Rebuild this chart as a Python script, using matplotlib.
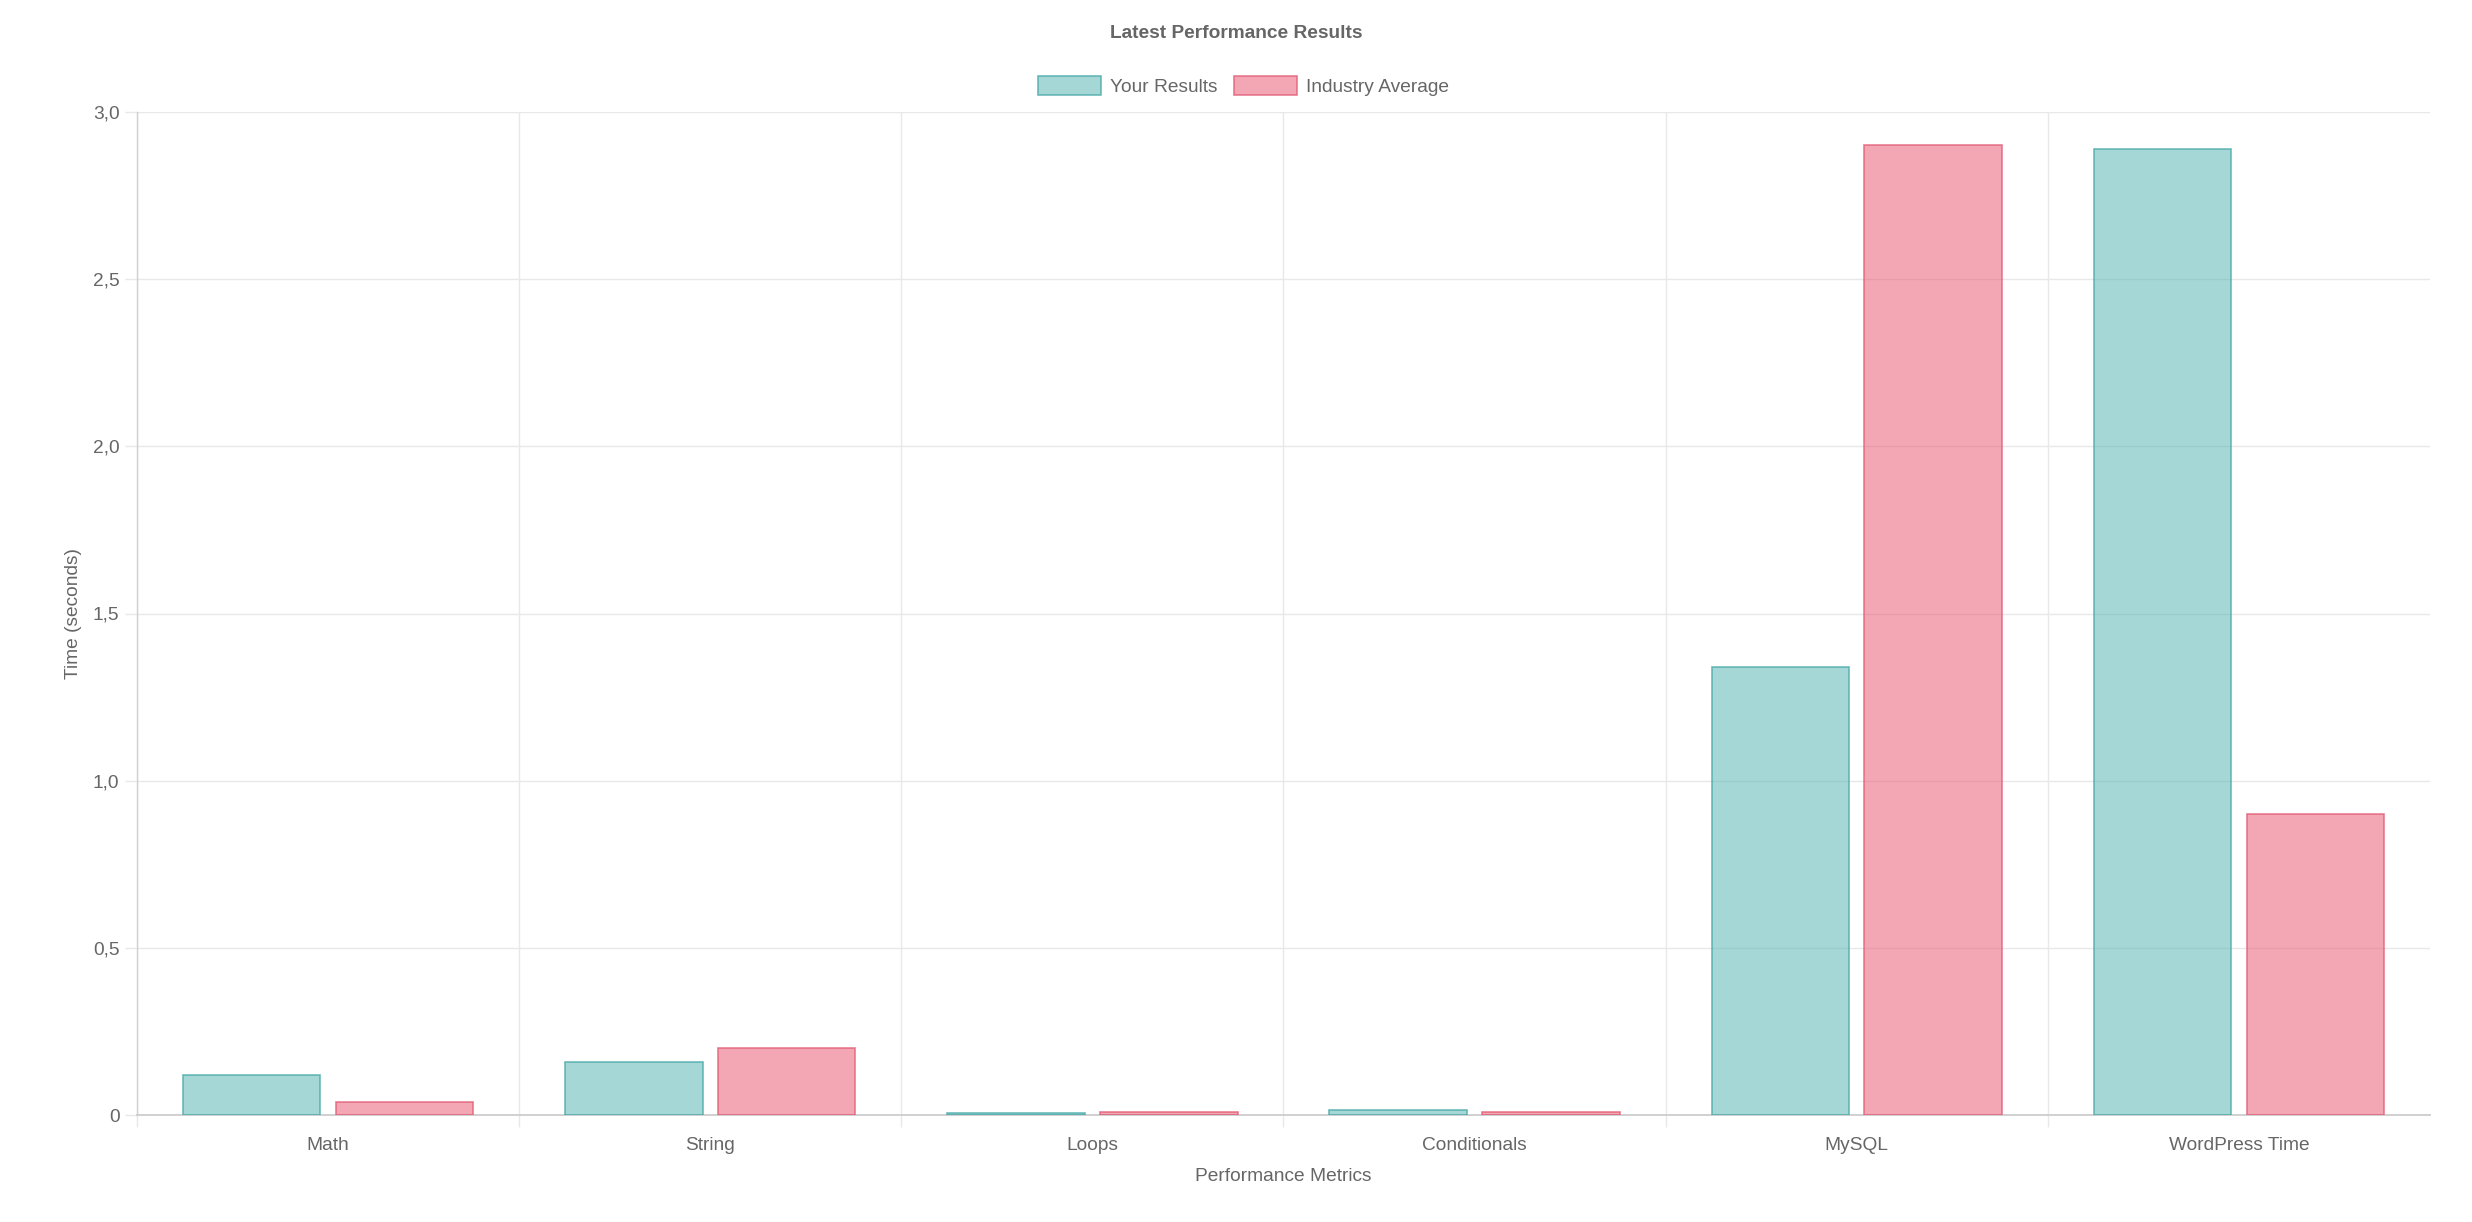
import matplotlib
matplotlib.use("Agg")
import matplotlib.pyplot as plt
import numpy as np
from matplotlib.ticker import FuncFormatter, FixedLocator

categorias = ["Math", "String", "Loops", "Conditionals", "MySQL", "WordPress Time"]
tus_resultados = [0.12, 0.16, 0.005, 0.015, 1.34, 2.89]
promedio_industria = [0.04, 0.20, 0.01, 0.01, 2.90, 0.90]
series_nombres = ["Your Results", "Industry Average"]
y_ticks = [0, 0.5, 1.0, 1.5, 2.0, 2.5, 3.0]

plt.rcParams['font.family'] = ['Liberation Sans', 'DejaVu Sans']
gris_texto = "#666666"
gris_grid = "#e8e8e8"
gris_eje = "#d0d0d0"
fs = 6.9

W, H, DPI = 2472, 1222, 200
fig = plt.figure(figsize=(W / DPI, H / DPI), dpi=DPI)
# area del grafico en pixeles
left, right, top, bottom = 137, 2430, 112, 1115
ax = fig.add_axes([left / W, 1 - bottom / H, (right - left) / W, (bottom - top) / H])

x = np.arange(len(categorias))
ancho = 0.36
off = 0.2
ax.bar(x - off, tus_resultados, width=ancho, color=(77/255, 177/255, 177/255, 0.5),
       edgecolor=(75/255, 170/255, 170/255, 0.8), linewidth=0.6, label=series_nombres[0], zorder=3)
ax.bar(x + off, promedio_industria, width=ancho, color=(233/255, 79/255, 105/255, 0.5),
       edgecolor=(225/255, 95/255, 120/255, 0.8), linewidth=0.6, label=series_nombres[1], zorder=3)

ax.set_xlim(-0.5, len(categorias) - 0.5)
ax.set_ylim(0, 3.0)

# eje y
ax.yaxis.set_major_locator(FixedLocator(y_ticks))
ax.yaxis.set_major_formatter(FuncFormatter(lambda v, p: "0" if v == 0 else f"{v:.1f}".replace(".", ",")))
ax.tick_params(axis='y', length=4.3, width=0.5, color=gris_grid, labelcolor=gris_texto,
               labelsize=fs, pad=2)
ax.grid(axis='y', color=gris_grid, linewidth=0.5, zorder=0)

# eje x: etiquetas en el centro, lineas entre categorias
ax.set_xticks(x)
ax.set_xticklabels(categorias)
ax.set_xticks(np.arange(-0.5, len(categorias) - 0.5, 1.0), minor=True)
ax.tick_params(axis='x', which='major', length=0, labelcolor=gris_texto, labelsize=fs, pad=8)
ax.tick_params(axis='x', which='minor', length=4.3, width=0.5, color=gris_grid)
ax.grid(axis='x', which='minor', color=gris_grid, linewidth=0.5, zorder=0)

for s in ["top", "right"]:
    ax.spines[s].set_visible(False)
ax.spines["left"].set_color(gris_eje)
ax.spines["left"].set_linewidth(0.5)
ax.spines["bottom"].set_color(gris_eje)
ax.spines["bottom"].set_linewidth(0.7)

ax.set_xlabel("Performance Metrics", fontsize=fs, color=gris_texto, labelpad=5)
ax.set_ylabel("Time (seconds)", fontsize=fs, color=gris_texto, labelpad=4)

fig.text(0.5, 1 - 34 / H, "Latest Performance Results", ha='center', va='center',
         fontsize=fs, fontweight='bold', color=gris_texto)

ax.legend(loc='center', bbox_to_anchor=(0.503, 1 - 86 / H), bbox_transform=fig.transFigure,
          ncol=2, frameon=False, fontsize=fs, labelcolor=gris_texto,
          handlelength=3.3, handleheight=1.1, handletextpad=0.47, columnspacing=0.85)

fig.savefig("out.png", dpi=DPI)
